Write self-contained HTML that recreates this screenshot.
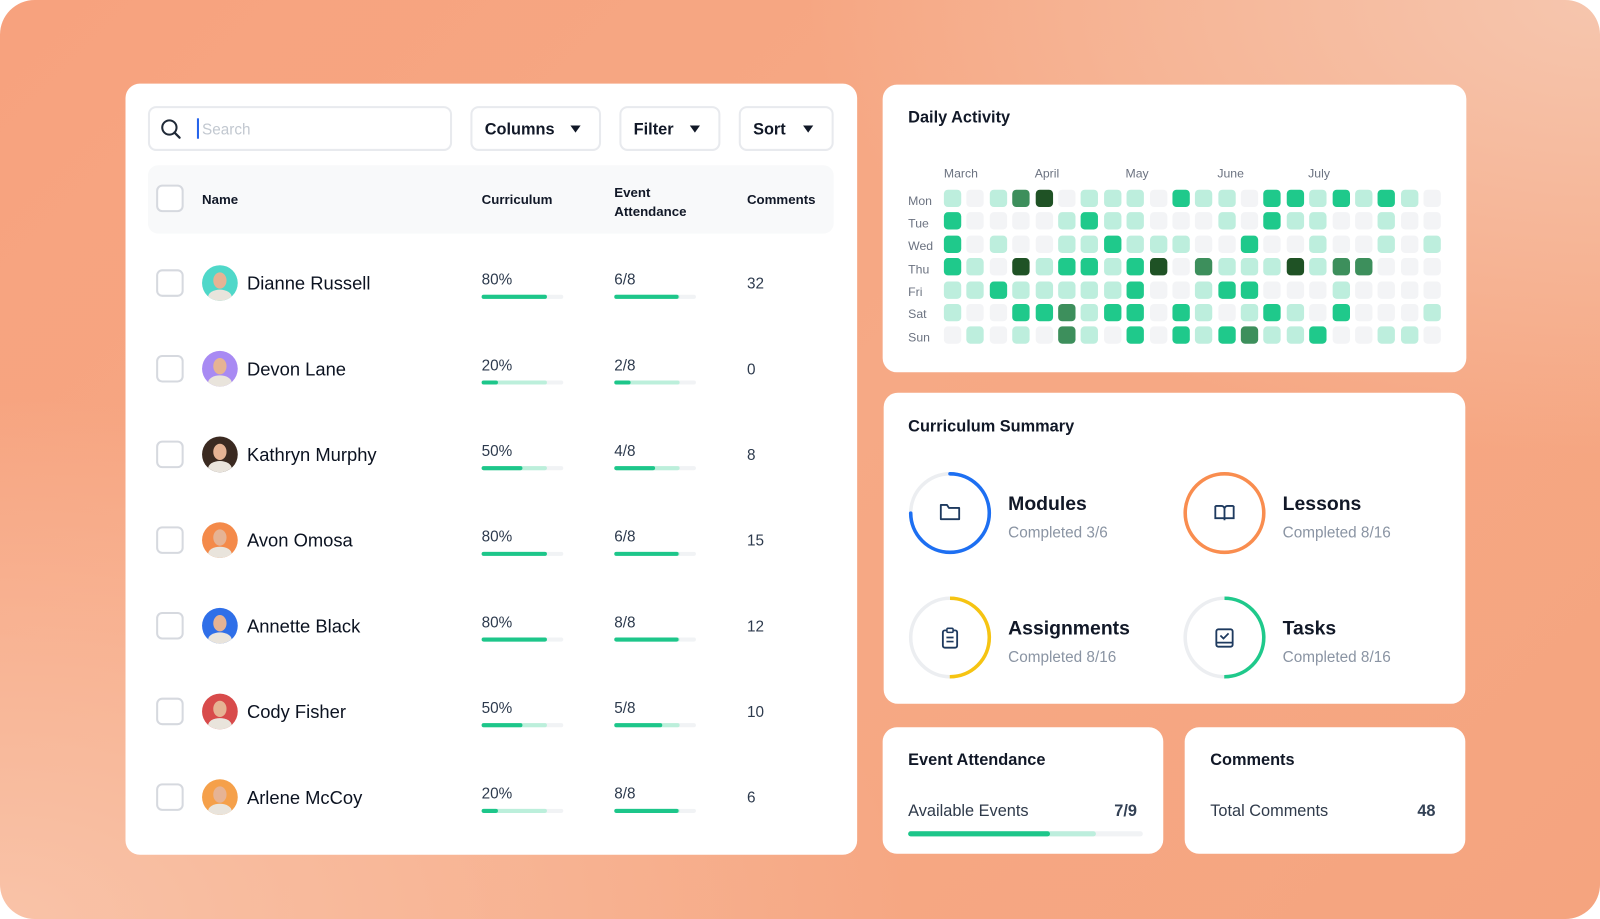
<!DOCTYPE html>
<html><head><meta charset="utf-8"><style>
*{margin:0;padding:0;box-sizing:border-box}
html,body{width:1600px;height:919px;overflow:hidden;background:#fff;font-family:"Liberation Sans",sans-serif}
#w{position:absolute;left:0;top:0;width:1568px;height:901px;transform:scale(1.02041,1.02);transform-origin:0 0}
#bg{position:absolute;left:0;top:0;width:1568px;height:901px;border-radius:34px;background:radial-gradient(ellipse at 100% 0%,#f6c6ae 0%,rgba(246,198,174,0) 35%),radial-gradient(ellipse at 0% 100%,#f9c3a8 0%,rgba(249,195,168,0) 40%),linear-gradient(135deg,#f7a27e,#f6a985 50%,#f5a47f)}
.card{position:absolute;background:#fff;border-radius:14px}
.abs{position:absolute}
.t{transform:translateY(2px)}
.btn{position:absolute;top:104px;height:44px;border:2px solid #e8eaee;border-radius:8px;font-size:16px;color:#111827;font-weight:bold;line-height:44px;padding-left:12px}
.btn:after{content:"";position:absolute;right:18px;top:17px;border-left:5px solid transparent;border-right:5px solid transparent;border-top:7px solid #111827}
.cb{position:absolute;left:153px;width:27px;height:27px;border:2px solid #d6d9df;border-radius:6px;background:#fff}
.av{position:absolute;left:198px;width:35px;height:35px;border-radius:50%;overflow:hidden}
.av:before{content:"";position:absolute;left:11px;top:7px;width:13px;height:16px;border-radius:50%;background:#e6b394}
.av:after{content:"";position:absolute;left:6px;top:24px;width:23px;height:14px;border-radius:50% 50% 0 0;background:#e9e4dc}
.nm{position:absolute;left:242px;font-size:18px;color:#0b1220;transform:translateY(2px)}
.pt{position:absolute;font-size:15px;color:#2d3a4d;transform:translateY(2px)}
.trk{position:absolute;width:80px;height:4px;border-radius:2px;background:#f1f3f5}
.trk b{position:absolute;left:0;top:0;height:4px;border-radius:2px;background:#bcefdb;width:64px}
.trk i{position:absolute;left:0;top:0;height:4px;border-radius:2px;background:#1dc68a}
.hm{position:absolute;left:925px;top:186px}
.hm div{display:flex;gap:5.4px;margin-bottom:5.4px;height:17px}
.hm i{display:block;width:17px;height:17px;border-radius:4px;background:#f3f4f6}
.hm i.a{background:#bdeedd}.hm i.b{background:#1fc98b}.hm i.c{background:#3d8f5c}.hm i.d{background:#1f5225}
.dl{position:absolute;left:890px;font-size:12px;color:#6b7280;transform:translateY(1px)}
.ml{position:absolute;top:163px;font-size:12px;color:#6b7280}
.h{position:absolute;font-size:16px;font-weight:bold;color:#111827;transform:translateY(2px)}
.st{position:absolute;font-size:19px;font-weight:bold;color:#111827;transform:translateY(2px)}
.sc{position:absolute;font-size:15px;color:#8a94a3;transform:translateY(2px)}
</style></head><body><div id="w"><div id="bg"></div>

<div class="card" style="left:123px;top:82px;width:717px;height:756px"></div>
<div class="abs" style="left:145px;top:104px;width:298px;height:44px;border:2px solid #e8eaee;border-radius:8px"></div>
<svg class="abs" style="left:157px;top:116px" width="22" height="22" viewBox="0 0 22 22"><circle cx="9" cy="9" r="7" fill="none" stroke="#1f2937" stroke-width="2"/><path d="M14 14l5 5" stroke="#1f2937" stroke-width="2.2" stroke-linecap="round"/></svg>
<div class="abs" style="left:193px;top:116px;width:2px;height:20px;background:#2563eb"></div>
<div class="abs t" style="left:198px;top:117px;font-size:15px;color:#c2c8d0">Search</div>
<div class="btn" style="left:461px;width:128px">Columns</div>
<div class="btn" style="left:607px;width:99px">Filter</div>
<div class="btn" style="left:724px;width:93px">Sort</div>

<div class="abs" style="left:145px;top:162px;width:672px;height:67px;background:#f8f9fa;border-radius:10px"></div>
<div class="cb" style="top:181px"></div>
<div class="abs t" style="left:198px;top:186px;font-size:13px;font-weight:bold;color:#111827">Name</div>
<div class="abs t" style="left:472px;top:186px;font-size:13px;font-weight:bold;color:#111827">Curriculum</div>
<div class="abs t" style="left:602px;top:177px;font-size:13px;font-weight:bold;color:#111827;line-height:19px">Event<br>Attendance</div>
<div class="abs t" style="left:732px;top:186px;font-size:13px;font-weight:bold;color:#111827">Comments</div>

<div class="cb" style="top:264px"></div><div class="av" style="top:260px;background:#4fd8c9"></div><div class="nm" style="top:266px">Dianne Russell</div>
<div class="pt" style="left:472px;top:264px">80%</div><div class="trk" style="left:472px;top:289px"><b></b><i style="width:64px"></i></div>
<div class="pt" style="left:602px;top:264px">6/8</div><div class="trk" style="left:602px;top:289px"><b></b><i style="width:63px"></i></div>
<div class="pt" style="left:732px;top:268px">32</div>

<div class="cb" style="top:348px"></div><div class="av" style="top:344px;background:#a88af3"></div><div class="nm" style="top:350px">Devon Lane</div>
<div class="pt" style="left:472px;top:348px">20%</div><div class="trk" style="left:472px;top:373px"><b></b><i style="width:16px"></i></div>
<div class="pt" style="left:602px;top:348px">2/8</div><div class="trk" style="left:602px;top:373px"><b></b><i style="width:16px"></i></div>
<div class="pt" style="left:732px;top:352px">0</div>

<div class="cb" style="top:432px"></div><div class="av" style="top:428px;background:#3b2a21"></div><div class="nm" style="top:434px">Kathryn Murphy</div>
<div class="pt" style="left:472px;top:432px">50%</div><div class="trk" style="left:472px;top:457px"><b></b><i style="width:40px"></i></div>
<div class="pt" style="left:602px;top:432px">4/8</div><div class="trk" style="left:602px;top:457px"><b></b><i style="width:40px"></i></div>
<div class="pt" style="left:732px;top:436px">8</div>

<div class="cb" style="top:516px"></div><div class="av" style="top:512px;background:#f48a4a"></div><div class="nm" style="top:518px">Avon Omosa</div>
<div class="pt" style="left:472px;top:516px">80%</div><div class="trk" style="left:472px;top:541px"><b></b><i style="width:64px"></i></div>
<div class="pt" style="left:602px;top:516px">6/8</div><div class="trk" style="left:602px;top:541px"><b></b><i style="width:63px"></i></div>
<div class="pt" style="left:732px;top:520px">15</div>

<div class="cb" style="top:600px"></div><div class="av" style="top:596px;background:#2f6fe8"></div><div class="nm" style="top:602px">Annette Black</div>
<div class="pt" style="left:472px;top:600px">80%</div><div class="trk" style="left:472px;top:625px"><b></b><i style="width:64px"></i></div>
<div class="pt" style="left:602px;top:600px">8/8</div><div class="trk" style="left:602px;top:625px"><b></b><i style="width:63px"></i></div>
<div class="pt" style="left:732px;top:604px">12</div>

<div class="cb" style="top:684px"></div><div class="av" style="top:680px;background:#d84b4b"></div><div class="nm" style="top:686px">Cody Fisher</div>
<div class="pt" style="left:472px;top:684px">50%</div><div class="trk" style="left:472px;top:709px"><b></b><i style="width:40px"></i></div>
<div class="pt" style="left:602px;top:684px">5/8</div><div class="trk" style="left:602px;top:709px"><b></b><i style="width:47px"></i></div>
<div class="pt" style="left:732px;top:688px">10</div>

<div class="cb" style="top:768px"></div><div class="av" style="top:764px;background:#f5a04a"></div><div class="nm" style="top:770px">Arlene McCoy</div>
<div class="pt" style="left:472px;top:768px">20%</div><div class="trk" style="left:472px;top:793px"><b></b><i style="width:16px"></i></div>
<div class="pt" style="left:602px;top:768px">8/8</div><div class="trk" style="left:602px;top:793px"><b></b><i style="width:63px"></i></div>
<div class="pt" style="left:732px;top:772px">6</div>

<div class="card" style="left:865px;top:83px;width:572px;height:282px"></div>
<div class="h" style="left:890px;top:105px">Daily Activity</div>
<div class="ml" style="left:925px">March</div><div class="ml" style="left:1014px">April</div><div class="ml" style="left:1103px">May</div><div class="ml" style="left:1193px">June</div><div class="ml" style="left:1282px">July</div>
<div class="dl" style="top:189px">Mon</div><div class="dl" style="top:211px">Tue</div><div class="dl" style="top:233px">Wed</div><div class="dl" style="top:256px">Thu</div><div class="dl" style="top:278px">Fri</div><div class="dl" style="top:300px">Sat</div><div class="dl" style="top:323px">Sun</div>
<div class="hm">
<div><i class=a></i><i></i><i class=a></i><i class=c></i><i class=d></i><i></i><i class=a></i><i class=a></i><i class=a></i><i></i><i class=b></i><i class=a></i><i class=a></i><i></i><i class=b></i><i class=b></i><i class=a></i><i class=b></i><i class=a></i><i class=b></i><i class=a></i><i></i></div>
<div><i class=b></i><i></i><i></i><i></i><i></i><i class=a></i><i class=b></i><i class=a></i><i class=a></i><i></i><i></i><i></i><i class=a></i><i></i><i class=b></i><i class=a></i><i class=a></i><i></i><i></i><i class=a></i><i></i><i></i></div>
<div><i class=b></i><i></i><i class=a></i><i></i><i></i><i class=a></i><i class=a></i><i class=b></i><i class=a></i><i class=a></i><i class=a></i><i></i><i></i><i class=b></i><i></i><i></i><i class=a></i><i></i><i></i><i class=a></i><i></i><i class=a></i></div>
<div><i class=b></i><i class=a></i><i></i><i class=d></i><i class=a></i><i class=b></i><i class=b></i><i class=a></i><i class=b></i><i class=d></i><i></i><i class=c></i><i class=a></i><i class=a></i><i class=a></i><i class=d></i><i class=a></i><i class=c></i><i class=c></i><i></i><i></i><i></i></div>
<div><i class=a></i><i class=a></i><i class=b></i><i class=a></i><i class=a></i><i class=a></i><i class=a></i><i class=a></i><i class=b></i><i></i><i></i><i class=a></i><i class=b></i><i class=b></i><i></i><i></i><i></i><i class=a></i><i></i><i></i><i></i><i></i></div>
<div><i class=a></i><i></i><i></i><i class=b></i><i class=b></i><i class=c></i><i class=a></i><i class=b></i><i class=b></i><i></i><i class=b></i><i class=a></i><i></i><i class=a></i><i class=b></i><i class=a></i><i></i><i class=b></i><i></i><i></i><i></i><i class=a></i></div>
<div><i></i><i class=a></i><i></i><i class=a></i><i></i><i class=c></i><i class=a></i><i></i><i class=b></i><i></i><i class=b></i><i class=a></i><i class=b></i><i class=c></i><i class=a></i><i class=a></i><i class=b></i><i></i><i></i><i class=a></i><i class=a></i><i></i></div>
</div>

<div class="card" style="left:866px;top:385px;width:570px;height:305px"></div>
<div class="h" style="left:890px;top:408px">Curriculum Summary</div>
<svg class="abs" style="left:889px;top:461px" width="84" height="84"><circle cx="42" cy="42" r="38.5" fill="none" stroke="#eceef1" stroke-width="3.5"/><circle cx="42" cy="42" r="38.5" fill="none" stroke="#1d6ff2" stroke-width="3.5" stroke-dasharray="181 300" transform="rotate(-90 42 42)" stroke-linecap="round"/><path d="M33 34h6l2 3h10v11H33z" fill="none" stroke="#1e3a5f" stroke-width="1.8" stroke-linejoin="round"/></svg>
<div class="st" style="left:988px;top:482px">Modules</div><div class="sc" style="left:988px;top:512px">Completed 3/6</div>
<svg class="abs" style="left:1158px;top:461px" width="84" height="84"><circle cx="42" cy="42" r="38.5" fill="none" stroke="#f98d4f" stroke-width="3.5"/><path d="M33 35h6a3 3 0 0 1 3 3v11M51 35h-6a3 3 0 0 0-3 3M33 35v12h9M51 35v12h-9" fill="none" stroke="#1e3a5f" stroke-width="1.8"/></svg>
<div class="st" style="left:1257px;top:482px">Lessons</div><div class="sc" style="left:1257px;top:512px">Completed 8/16</div>
<svg class="abs" style="left:889px;top:583px" width="84" height="84"><circle cx="42" cy="42" r="38.5" fill="none" stroke="#eceef1" stroke-width="3.5"/><circle cx="42" cy="42" r="38.5" fill="none" stroke="#f6c412" stroke-width="3.5" stroke-dasharray="121 300" transform="rotate(-90 42 42)"/><rect x="35" y="35" width="14" height="17" rx="2" fill="none" stroke="#1e3a5f" stroke-width="1.8"/><rect x="39" y="33" width="6" height="4" rx="1" fill="#fff" stroke="#1e3a5f" stroke-width="1.5"/><path d="M38.5 42h7M38.5 46h7" stroke="#1e3a5f" stroke-width="1.6"/></svg>
<div class="st" style="left:988px;top:604px">Assignments</div><div class="sc" style="left:988px;top:634px">Completed 8/16</div>
<svg class="abs" style="left:1158px;top:583px" width="84" height="84"><circle cx="42" cy="42" r="38.5" fill="none" stroke="#eceef1" stroke-width="3.5"/><circle cx="42" cy="42" r="38.5" fill="none" stroke="#1fc98b" stroke-width="3.5" stroke-dasharray="121 300" transform="rotate(-90 42 42)"/><rect x="34" y="34" width="16" height="17" rx="2" fill="none" stroke="#1e3a5f" stroke-width="1.8"/><path d="M34 47h16M38 40l3 3 5-5" fill="none" stroke="#1e3a5f" stroke-width="1.7"/></svg>
<div class="st" style="left:1257px;top:604px">Tasks</div><div class="sc" style="left:1257px;top:634px">Completed 8/16</div>

<div class="card" style="left:865px;top:713px;width:275px;height:124px"></div>
<div class="h" style="left:890px;top:735px">Event Attendance</div>
<div class="abs t" style="left:890px;top:785px;font-size:16px;color:#2f3a4a">Available Events</div>
<div class="abs t" style="left:1092px;top:785px;font-size:16px;font-weight:bold;color:#334155">7/9</div>
<div class="abs" style="left:890px;top:815px;width:230px;height:5px;border-radius:3px;background:#f1f3f5"></div>
<div class="abs" style="left:890px;top:815px;width:184px;height:5px;border-radius:3px;background:#bdeedd"></div>
<div class="abs" style="left:890px;top:815px;width:139px;height:5px;border-radius:3px;background:#1dc68a"></div>
<div class="card" style="left:1161px;top:713px;width:275px;height:124px"></div>
<div class="h" style="left:1186px;top:735px">Comments</div>
<div class="abs t" style="left:1186px;top:785px;font-size:16px;color:#2f3a4a">Total Comments</div>
<div class="abs t" style="left:1389px;top:785px;font-size:16px;font-weight:bold;color:#334155">48</div>
</div></body></html>
